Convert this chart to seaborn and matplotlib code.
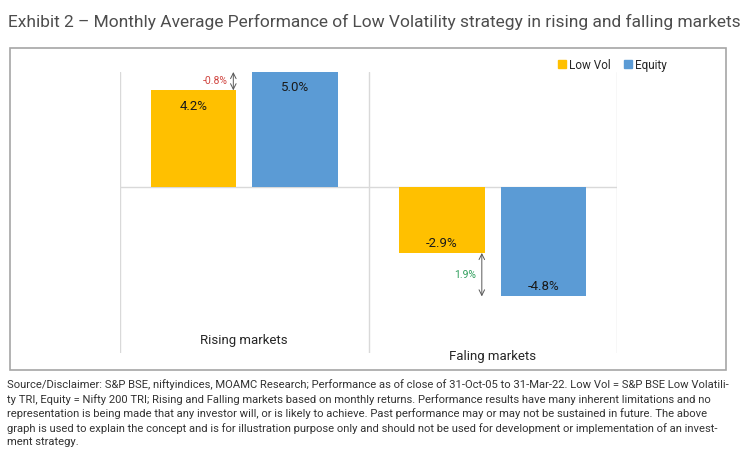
import matplotlib
matplotlib.use("Agg")
import matplotlib.pyplot as plt
from matplotlib.patches import Rectangle
from matplotlib.lines import Line2D
import pandas as pd
import seaborn as sns

markets = ["Rising markets", "Faling markets"]
series = ["Low Vol", "Equity"]
low_vol = [4.2, -2.9]
equity = [5.0, -4.8]
colors = {"Low Vol": "#FFC000", "Equity": "#5B9BD5"}

title = "Exhibit 2 \u2013 Monthly Average Performance of Low Volatility strategy in rising and falling markets"
source = ("Source/Disclaimer: S&P BSE, niftyindices, MOAMC Research; Performance as of close of 31-Oct-05 to 31-Mar-22. Low Vol = S&P BSE Low Volatili-\n"
          "ty TRI, Equity = Nifty 200 TRI; Rising and Falling markets based on monthly returns. Performance results have many inherent limitations and no\n"
          "representation is being made that any investor will, or is likely to achieve. Past performance may or may not be sustained in future. The above\n"
          "graph is used to explain the concept and is for illustration purpose only and should not be used for development or implementation of an invest-\n"
          "ment strategy.")

df = pd.DataFrame({
    "Market": markets * 2,
    "Series": [series[0]] * 2 + [series[1]] * 2,
    "Return": low_vol + equity,
})

sns.set_style("white")
plt.rcParams["font.family"] = ["Roboto", "DejaVu Sans"]

fig = plt.figure(figsize=(7.5, 4.53), dpi=100)
ax = fig.add_axes([120 / 750, 1 - 353 / 453, 497 / 750, 281 / 453])

sns.barplot(data=df, x="Market", y="Return", hue="Series", hue_order=series,
            palette=colors, width=0.815, gap=0.157, legend=False, ax=ax,
            saturation=1, edgecolor="none")

ax.set_ylim(-7.27, 5.0)
ax.set_xlim(-0.5, 1.5)
for s in ax.spines.values():
    s.set_visible(False)
ax.set_yticks([])
ax.set_xticks([])
ax.set_xlabel("")
ax.set_ylabel("")
ax.axhline(0, color="#D9D9D9", lw=1, zorder=0)
for xv in [-0.5, 0.5, 1.5]:
    ax.axvline(xv, color="#D9D9D9", lw=1, zorder=0)

# category labels (staggered like the original)
trans = ax.get_xaxis_transform()
ax.text(0, 0.046, markets[0], transform=trans, ha="center", va="center", fontsize=9.5, color="#262626")
ax.text(1, -0.014, markets[1], transform=trans, ha="center", va="center", fontsize=9.5, color="#262626")

# value labels
for cont, vals in zip(ax.containers, [low_vol, equity]):
    for p, v in zip(cont.patches, vals):
        xc = p.get_x() + p.get_width() / 2
        off = -11.5 if v > 0 else 7
        ax.annotate(f"{v:.1f}%", (xc, v), xytext=(0, off), textcoords="offset points",
                    ha="center", va="center", fontsize=9.5, color="#1A1A1A")

# difference arrows
lv_bars = ax.containers[0].patches
for p, lv, eq in zip(lv_bars, low_vol, equity):
    xa = p.get_x() + p.get_width() - 0.012
    ax.annotate("", xy=(xa, lv), xytext=(xa, eq),
                arrowprops=dict(arrowstyle="<->", color="#595959", lw=0.7,
                                shrinkA=0, shrinkB=0, mutation_scale=10))
    diff = lv - eq
    ax.annotate(f"{diff:.1f}%", (xa, (lv + eq) / 2), xytext=(-4, 0), textcoords="offset points",
                ha="right", va="center", fontsize=7.5,
                color="#D0443F" if diff < 0 else "#2E9E5B")

# legend
handles = [Line2D([], [], marker="s", ls="", color=colors[s], markersize=5.5) for s in series]
fig.legend(handles, series, loc="center", bbox_to_anchor=(612 / 750, 1 - 65 / 453), ncol=2,
           frameon=False, fontsize=8.5, handlelength=0.8, handletextpad=0.2, columnspacing=1.0)

# frame around chart
fig.add_artist(Rectangle((10 / 750, 1 - 370 / 453), 716 / 750, 322 / 453, transform=fig.transFigure,
                         fill=False, ec="#A6A6A6", lw=1.2))

fig.text(8 / 750, 1 - 22 / 453, title, ha="left", va="center", fontsize=12.5, color="#4D4D4D")
fig.text(7 / 750, 1 - 379 / 453, source, ha="left", va="top", fontsize=8.15, color="#333333", linespacing=1.42)

fig.savefig("out.png", dpi=100)
